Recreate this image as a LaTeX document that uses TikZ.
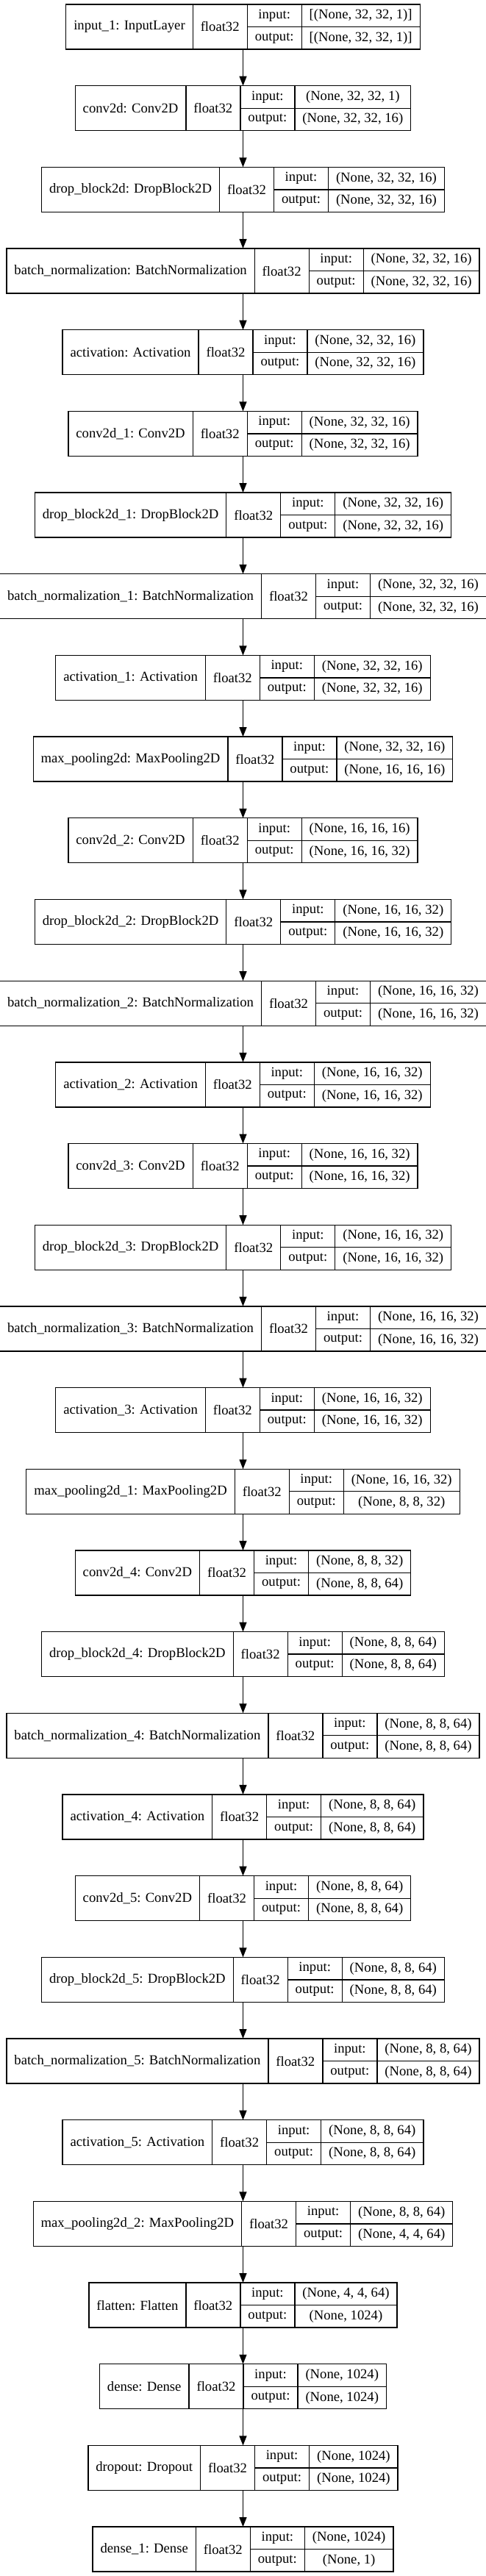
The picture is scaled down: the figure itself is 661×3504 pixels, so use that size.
\documentclass[tikz,border=0pt]{standalone}
\usepackage{fontspec}
\setmainfont{Liberation Serif}
\usetikzlibrary{arrows.meta,positioning}

\newlength\wname
\newlength\wval
\newlength\wtmp
\newlength\wbox
\newcommand\kfont{\fontsize{18.67}{22.4}\selectfont}

\tikzset{
	cell/.style={draw, line width=1.3pt, rectangle, inner sep=0pt, outer sep=0pt, font=\kfont, align=center},
	full/.style={cell, minimum height=61pt},
	half/.style={cell, minimum height=30.5pt},
	frame/.style={rectangle, inner sep=0pt, outer sep=0pt, minimum height=61pt},
	arr/.style={-{Triangle[length=13pt,width=10pt]}, line width=1.3pt}
}

\begin{document}
\begin{tikzpicture}[x=1pt,y=1pt]
	\useasboundingbox (0,0) rectangle (661,-3504);
	\foreach \id/\nm/\vin/\vout [count=\i, remember=\id as \prev (initially in1)] in {
		in1/{input\_1: InputLayer}/{[(None, 32, 32, 1)]}/{[(None, 32, 32, 1)]},
		cv0/{conv2d: Conv2D}/{(None, 32, 32, 1)}/{(None, 32, 32, 16)},
		db0/{drop\_block2d: DropBlock2D}/{(None, 32, 32, 16)}/{(None, 32, 32, 16)},
		bn0/{batch\_normalization: BatchNormalization}/{(None, 32, 32, 16)}/{(None, 32, 32, 16)},
		ac0/{activation: Activation}/{(None, 32, 32, 16)}/{(None, 32, 32, 16)},
		cv1/{conv2d\_1: Conv2D}/{(None, 32, 32, 16)}/{(None, 32, 32, 16)},
		db1/{drop\_block2d\_1: DropBlock2D}/{(None, 32, 32, 16)}/{(None, 32, 32, 16)},
		bn1/{batch\_normalization\_1: BatchNormalization}/{(None, 32, 32, 16)}/{(None, 32, 32, 16)},
		ac1/{activation\_1: Activation}/{(None, 32, 32, 16)}/{(None, 32, 32, 16)},
		mp0/{max\_pooling2d: MaxPooling2D}/{(None, 32, 32, 16)}/{(None, 16, 16, 16)},
		cv2/{conv2d\_2: Conv2D}/{(None, 16, 16, 16)}/{(None, 16, 16, 32)},
		db2/{drop\_block2d\_2: DropBlock2D}/{(None, 16, 16, 32)}/{(None, 16, 16, 32)},
		bn2/{batch\_normalization\_2: BatchNormalization}/{(None, 16, 16, 32)}/{(None, 16, 16, 32)},
		ac2/{activation\_2: Activation}/{(None, 16, 16, 32)}/{(None, 16, 16, 32)},
		cv3/{conv2d\_3: Conv2D}/{(None, 16, 16, 32)}/{(None, 16, 16, 32)},
		db3/{drop\_block2d\_3: DropBlock2D}/{(None, 16, 16, 32)}/{(None, 16, 16, 32)},
		bn3/{batch\_normalization\_3: BatchNormalization}/{(None, 16, 16, 32)}/{(None, 16, 16, 32)},
		ac3/{activation\_3: Activation}/{(None, 16, 16, 32)}/{(None, 16, 16, 32)},
		mp1/{max\_pooling2d\_1: MaxPooling2D}/{(None, 16, 16, 32)}/{(None, 8, 8, 32)},
		cv4/{conv2d\_4: Conv2D}/{(None, 8, 8, 32)}/{(None, 8, 8, 64)},
		db4/{drop\_block2d\_4: DropBlock2D}/{(None, 8, 8, 64)}/{(None, 8, 8, 64)},
		bn4/{batch\_normalization\_4: BatchNormalization}/{(None, 8, 8, 64)}/{(None, 8, 8, 64)},
		ac4/{activation\_4: Activation}/{(None, 8, 8, 64)}/{(None, 8, 8, 64)},
		cv5/{conv2d\_5: Conv2D}/{(None, 8, 8, 64)}/{(None, 8, 8, 64)},
		db5/{drop\_block2d\_5: DropBlock2D}/{(None, 8, 8, 64)}/{(None, 8, 8, 64)},
		bn5/{batch\_normalization\_5: BatchNormalization}/{(None, 8, 8, 64)}/{(None, 8, 8, 64)},
		ac5/{activation\_5: Activation}/{(None, 8, 8, 64)}/{(None, 8, 8, 64)},
		mp2/{max\_pooling2d\_2: MaxPooling2D}/{(None, 8, 8, 64)}/{(None, 4, 4, 64)},
		fl/{flatten: Flatten}/{(None, 4, 4, 64)}/{(None, 1024)},
		ds0/{dense: Dense}/{(None, 1024)}/{(None, 1024)},
		dp/{dropout: Dropout}/{(None, 1024)}/{(None, 1024)},
		ds1/{dense\_1: Dense}/{(None, 1024)}/{(None, 1)}%
	}{
		% widths of the name cell and the shape cells
		\pgfinterruptpicture
			\settowidth\wtmp{\normalfont\kfont\nm}\global\wname=\dimexpr\wtmp+21pt\relax
			\settowidth\wtmp{\normalfont\kfont\vin}\global\wval=\dimexpr\wtmp+21pt\relax
			\settowidth\wtmp{\normalfont\kfont\vout}\addtolength\wtmp{21pt}
			\ifdim\wtmp>\wval \global\wval=\wtmp\fi
		\endpgfinterruptpicture
		\setlength\wbox{\dimexpr\wname+\wval+148pt\relax}
		\node[frame, minimum width=\wbox] (\id) at (330.5, {-36.5-110.68*(\i-1)}) {};
		\node[full, minimum width=\wname, anchor=west] (\id-nm) at (\id.west) {\nm};
		\node[full, minimum width=74pt, right=0pt of \id-nm] (\id-dt) {float32};
		\node[half, minimum width=74pt, anchor=north west] (\id-i) at (\id-dt.north east) {input:};
		\node[half, minimum width=74pt, anchor=north west] (\id-o) at (\id-i.south west) {output:};
		\node[half, minimum width=\wval, anchor=north west] (\id-vi) at (\id-i.north east) {\vin};
		\node[half, minimum width=\wval, anchor=north west] (\id-vo) at (\id-o.north east) {\vout};
		\ifnum\i>1 \draw[arr] (\prev) -- (\id);\fi
	}
\end{tikzpicture}
\end{document}
